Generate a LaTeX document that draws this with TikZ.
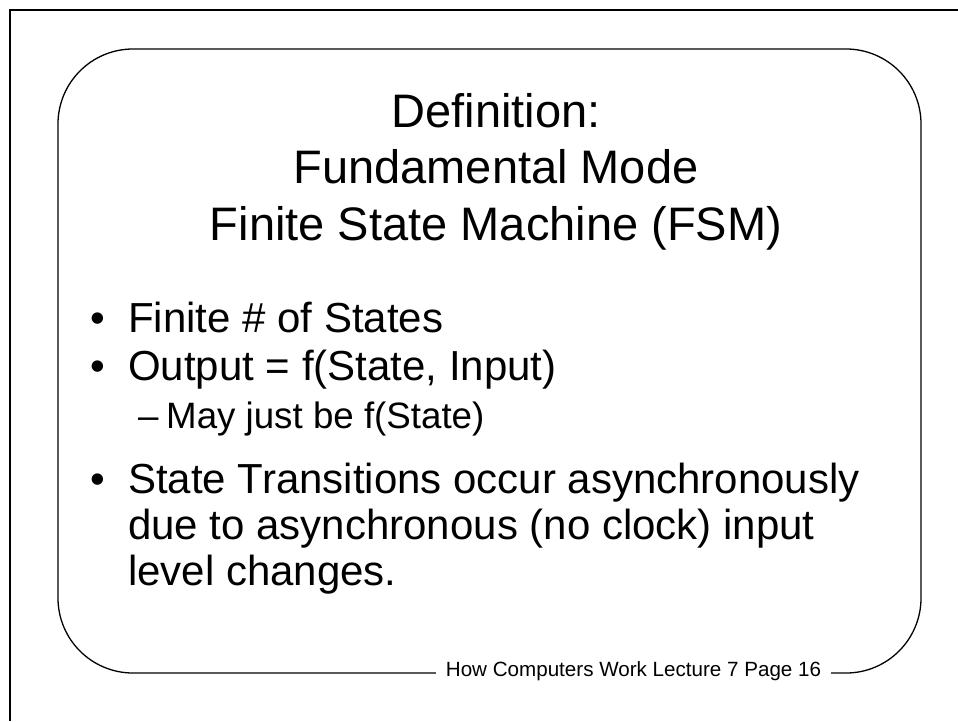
\documentclass[tikz,border=0pt]{standalone}
\usepackage{fontspec}
\setmainfont{Liberation Sans}
\usetikzlibrary{positioning}

\begin{document}
\begin{tikzpicture}[
    x=1pt, y=-1pt,
    frame/.style={line width=2pt},
    slide/.style={line width=1.3pt, rounded corners=75pt},
    title/.style={anchor=base, inner sep=0pt, font=\fontsize{47}{56.5}\selectfont},
    dot/.style={anchor=base, inner sep=0pt, font=\fontsize{42}{46}\selectfont},
    item/.style={anchor=base west, inner sep=0pt, font=\fontsize{42}{46}\selectfont},
    subitem/.style={anchor=base west, inner sep=0pt, font=\fontsize{36.7}{44}\selectfont},
    footer/.style={anchor=base, fill=white, inner xsep=10pt, inner ysep=3pt, font=\fontsize{20.6}{24}\selectfont}
]
\useasboundingbox (0,0) rectangle (958,721);

% page frame and slide outline
\draw [frame] (10,721) -- (10,10) -- (958,10);
\draw [slide] (58,49) rectangle (921,673);

% title
\node [title] (title1) at (496,127) {Definition:};
\node [title] (title2) at (496,183) {Fundamental Mode};
\node [title] (title3) at (496,240) {Finite State Machine (FSM)};

% bullets
\node [dot] (dot1) at (98,332) {•};
\node [item] (states) at (128,332) {Finite \# of States};
\node [dot] (dot2) at (98,380) {•};
\node [item] (output) at (128,380) {Output = f(State, Input)};
\node [subitem] (dash) at (138,428) {–};
\node [subitem] (maybe) at (166,428) {May just be f(State)};
\node [dot] (dot3) at (98,493) {•};
\node [item] (trans1) at (128,493) {State Transitions occur asynchronously};
\node [item] (trans2) at (128,539) {due to asynchronous (no clock) input};
\node [item] (trans3) at (128,585) {level changes.};

\node [footer] (page) at (633.5,676) {How Computers Work Lecture 7 Page 16};

\end{tikzpicture}
\end{document}
